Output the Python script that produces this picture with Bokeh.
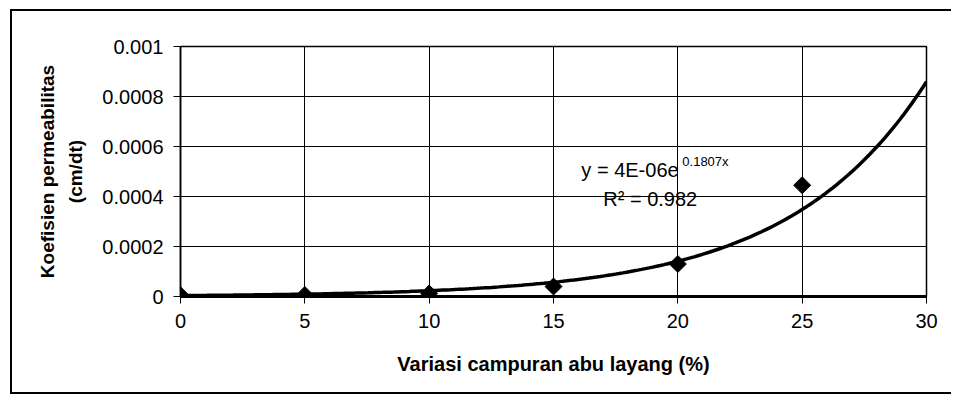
import numpy as np
from bokeh.plotting import figure
from bokeh.models import ColumnDataSource, FixedTicker, Label
from bokeh.embed import file_html
from bokeh.resources import INLINE

# ---- data ----
fly_ash_pct = [0, 5, 10, 15, 20, 25]
permeability = [0.000005, 0.000006, 0.000012, 0.00004, 0.00013, 0.000445]
x_ticks = [0, 5, 10, 15, 20, 25, 30]
y_ticks = [0, 0.0002, 0.0004, 0.0006, 0.0008, 0.001]
y_tick_labels = ["0", "0.0002", "0.0004", "0.0006", "0.0008", "0.001"]
trend_a = 3.8e-6      # exponential trendline y = a*exp(b*x)
trend_b = 0.1807
eq_text = "y = 4E-06e"
eq_sup = "0.1807x"
r2_text = "R\u00b2 = 0.982"

FONT = "Liberation Sans"

p = figure(width=941, height=385, output_backend="svg", toolbar_location=None,
           x_range=(0, 30), y_range=(0, 0.001),
           min_border_left=168, min_border_right=27, min_border_top=35, min_border_bottom=100,
           background_fill_color="white", border_fill_color="white",
           styles={"margin-left": "10px", "margin-top": "9px",
                   "border-left": "2px solid black", "border-top": "2px solid black",
                   "border-bottom": "2px solid black"})
p.outline_line_color = "black"
p.outline_line_width = 1.5

# grid
p.xgrid.ticker = FixedTicker(ticks=x_ticks)
p.ygrid.ticker = FixedTicker(ticks=y_ticks)
for g in (p.xgrid, p.ygrid):
    g.grid_line_color = "black"
    g.grid_line_width = 1
    g.grid_line_alpha = 1

# axes
p.xaxis.ticker = FixedTicker(ticks=x_ticks)
p.yaxis.ticker = FixedTicker(ticks=y_ticks)
p.yaxis.major_label_overrides = {t: s for t, s in zip(y_ticks, y_tick_labels)}
for ax in (p.xaxis, p.yaxis):
    ax.axis_line_color = "black"
    ax.major_tick_line_color = "black"
    ax.minor_tick_line_color = None
    ax.major_tick_in = 0
    ax.major_tick_out = 7
    ax.major_label_text_font = FONT
    ax.major_label_text_font_size = "20px"
    ax.major_label_text_color = "black"
    ax.axis_label_text_font = FONT
    ax.axis_label_text_font_style = "bold"
    ax.axis_label_text_color = "black"
p.xaxis.axis_label_text_font_size = "20px"
p.yaxis.axis_label_text_font_size = "19px"
p.xaxis.axis_line_width = 3
p.yaxis.axis_line_width = 1.5
p.xaxis.major_label_standoff = 10
p.yaxis.major_label_standoff = 10
p.xaxis.axis_label = "Variasi campuran abu layang (%)"
p.xaxis.axis_label_standoff = 22
p.yaxis.axis_label = "Koefisien permeabilitas\n(cm/dt)"
p.yaxis.axis_label_text_line_height = 1.35
p.yaxis.axis_label_standoff = 13

# trendline
xt = np.linspace(0, 30, 200)
p.line(xt, trend_a * np.exp(trend_b * xt), line_color="black", line_width=3.5)

# data points
src = ColumnDataSource(dict(x=fly_ash_pct, y=permeability))
p.scatter("x", "y", source=src, marker="square", angle=np.pi / 4, size=12,
          fill_color="black", line_color="black")

# equation labels
p.add_layout(Label(x=16.12, y=0.000508, text=eq_text, text_font=FONT, text_font_size="20px",
                   text_color="black", text_baseline="alphabetic"))
p.add_layout(Label(x=20.18, y=0.000540, text=eq_sup, text_font=FONT, text_font_size="13px",
                   text_color="black", text_baseline="alphabetic"))
p.add_layout(Label(x=17.0, y=0.000392, text=r2_text, text_font=FONT, text_font_size="20px",
                   text_color="black", text_baseline="alphabetic"))

open("out.html", "w").write(file_html(p, INLINE))
